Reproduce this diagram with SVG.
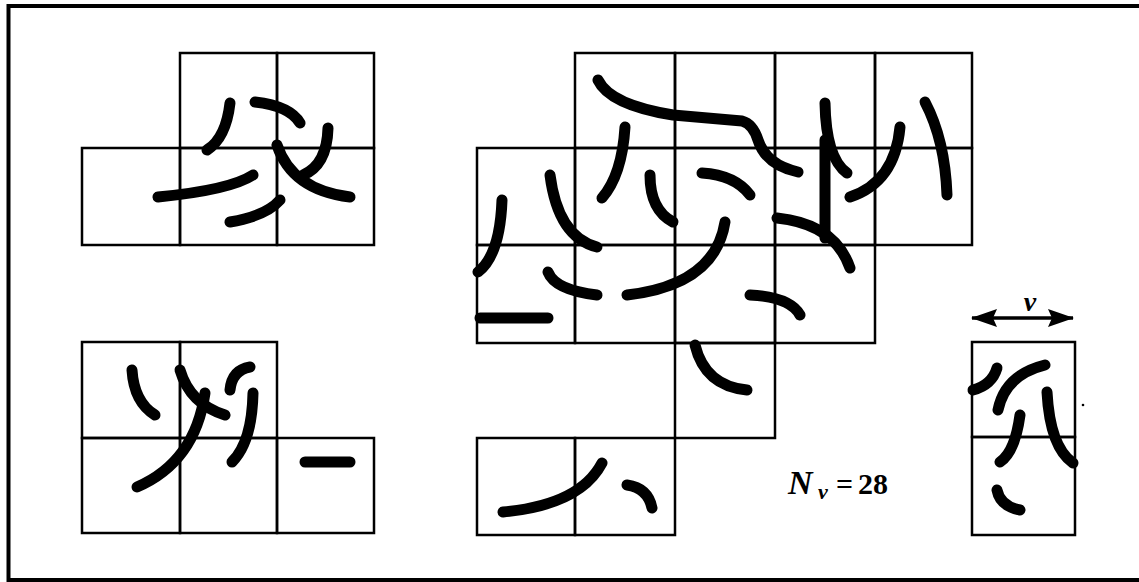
<svg xmlns="http://www.w3.org/2000/svg" width="1139" height="582" viewBox="0 0 1139 582">
<style>
.c{fill:none;stroke:#000;stroke-width:2.5}
.s{fill:none;stroke:#000;stroke-width:11;stroke-linecap:round;stroke-linejoin:round}
.t{font-family:"Liberation Serif",serif;font-weight:bold;fill:#000}
</style>
<defs>
<marker id="ah" viewBox="0 0 26 18" refX="25" refY="9" markerWidth="26" markerHeight="18" markerUnits="userSpaceOnUse" orient="auto-start-reverse">
<path d="M0,0 L26,9 L0,18 L4,9 Z" fill="#000"/>
</marker>
</defs>
<rect width="1139" height="582" fill="#fff"/>
<path d="M1139,6 H8.5 V580 H1139" fill="none" stroke="#000" stroke-width="4"/>

<g id="fig-top-left">
<rect class="c" x="180" y="53" width="97" height="95"/>
<rect class="c" x="277" y="53" width="97" height="95"/>
<rect class="c" x="82" y="148" width="98" height="97"/>
<rect class="c" x="180" y="148" width="97" height="97"/>
<rect class="c" x="277" y="148" width="97" height="97"/>
<path class="s" d="M230,103 Q226,138 207,150"/>
<path class="s" d="M255,102 Q290,106 300,123"/>
<path class="s" d="M328,128 Q327,165 303,175"/>
<path class="s" d="M277,145 Q292,190 350,197"/>
<path class="s" d="M158,197 Q230,190 253,175"/>
<path class="s" d="M230,222 Q266,216 280,200"/>
</g>

<g id="fig-bottom-left">
<rect class="c" x="82" y="342" width="98" height="96"/>
<rect class="c" x="180" y="342" width="97" height="96"/>
<rect class="c" x="82" y="438" width="98" height="95"/>
<rect class="c" x="180" y="438" width="97" height="95"/>
<rect class="c" x="277" y="438" width="97" height="95"/>
<path class="s" d="M132,370 Q134,402 155,415"/>
<path class="s" d="M180,370 Q190,404 225,415"/>
<path class="s" d="M205,393 Q195,462 137,487"/>
<path class="s" d="M250,367 Q232,370 230,390"/>
<path class="s" d="M253,393 Q252,442 232,462"/>
<path class="s" d="M305,462 L350,462"/>
</g>

<g id="fig-middle">
<rect class="c" x="575" y="53" width="100" height="95"/>
<rect class="c" x="675" y="53" width="100" height="95"/>
<rect class="c" x="775" y="53" width="100" height="95"/>
<rect class="c" x="875" y="53" width="97" height="95"/>
<rect class="c" x="477" y="148" width="98" height="97"/>
<rect class="c" x="575" y="148" width="100" height="97"/>
<rect class="c" x="675" y="148" width="100" height="97"/>
<rect class="c" x="775" y="148" width="100" height="97"/>
<rect class="c" x="875" y="148" width="97" height="97"/>
<rect class="c" x="477" y="245" width="98" height="98"/>
<rect class="c" x="575" y="245" width="100" height="98"/>
<rect class="c" x="675" y="245" width="100" height="98"/>
<rect class="c" x="775" y="245" width="100" height="98"/>
<rect class="c" x="675" y="343" width="100" height="95"/>
<rect class="c" x="477" y="438" width="98" height="97"/>
<rect class="c" x="575" y="438" width="100" height="97"/>
<path class="s" d="M598,80 Q610,105 673,115 L742,121 Q753,124 758,140 Q766,165 798,172"/>
<path class="s" d="M625,127 Q622,175 602,198"/>
<path class="s" d="M502,200 Q500,255 478,272"/>
<path class="s" d="M550,175 Q558,237 597,247"/>
<path class="s" d="M650,175 Q650,210 673,222"/>
<path class="s" d="M702,173 Q735,175 750,195"/>
<path class="s" d="M725,222 Q715,285 627,295"/>
<path class="s" d="M825,103 Q826,158 847,173"/>
<path class="s" d="M825,140 L825,238"/>
<path class="s" d="M777,218 Q835,224 850,268"/>
<path class="s" d="M900,127 Q895,182 850,197"/>
<path class="s" d="M925,102 Q945,140 947,195"/>
<path class="s" d="M548,272 Q555,290 597,295"/>
<path class="s" d="M480,318 L548,318"/>
<path class="s" d="M750,295 Q790,297 800,315"/>
<path class="s" d="M695,345 Q705,386 747,390"/>
<path class="s" d="M503,512 Q580,505 602,463"/>
<path class="s" d="M627,485 Q648,488 652,508"/>
</g>

<g id="fig-right">
<rect class="c" x="972" y="342" width="103" height="95"/>
<rect class="c" x="972" y="437" width="103" height="98"/>
<path class="s" d="M973,390 Q992,385 997,368"/>
<path class="s" d="M1045,365 Q1005,375 998,410"/>
<path class="s" d="M1047,392 Q1050,447 1073,463"/>
<path class="s" d="M1020,415 Q1015,452 1000,462"/>
<path class="s" d="M997,490 Q1000,506 1020,510"/>
<circle cx="1083" cy="405" r="1.3" fill="#000"/>
</g>

<g id="connectors">
<path d="M972,318 L1073,318" stroke="#000" stroke-width="3.5" fill="none" marker-start="url(#ah)" marker-end="url(#ah)"/>
</g>

<g id="labels">
<text class="t" x="1030" y="311" font-size="28" font-style="italic" text-anchor="middle">v</text>
<text class="t"><tspan x="788" y="494" font-size="34" font-style="italic">N</tspan><tspan x="818" y="499" font-size="22" font-style="italic">v</tspan><tspan x="836" y="494" font-size="30">=</tspan><tspan x="858" y="494" font-size="30">28</tspan></text>
</g>
</svg>
